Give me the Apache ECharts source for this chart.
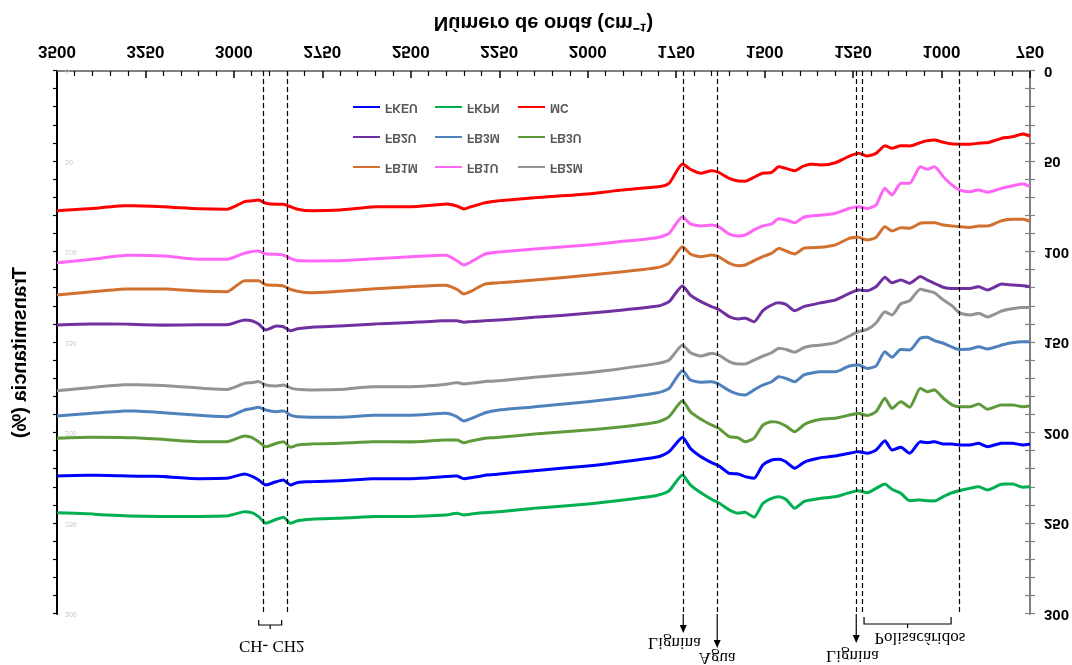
<!DOCTYPE html>
<html>
<head>
<meta charset="utf-8">
<script src="https://cdn.jsdelivr.net/npm/echarts@6/dist/echarts.min.js"></script>
<style>
  html, body { margin: 0; padding: 0; background: #fff; }
  /* the reference picture is mirrored top-to-bottom */
  #chart { width: 1072px; height: 665px; transform: scaleY(-1); }
</style>
</head>
<body>
<div id="chart"></div>
<script>
// wavenumbers (cm-1) shared by all spectra
var wavenumbers = [3500,3400,3300,3200,3100,3020,2970,2950,2930,2910,2880,2860,2840,2820,2780,2700,2600,2500,2400,2370,2350,2330,2290,2250,2150,2000,1900,1800,1770,1732,1710,1680,1650,1630,1600,1575,1555,1530,1505,1480,1460,1440,1415,1390,1370,1340,1300,1260,1235,1210,1185,1160,1140,1115,1090,1060,1040,1020,995,970,950,920,895,870,830,800,770,750];

var mc   = [77.2,75.9,74.4,75.0,76.1,76.4,72.2,71.7,71.3,73.1,73.6,73.6,75.0,76.4,77.2,76.8,75.0,75.0,73.5,74.6,76.2,75.0,72.8,71.7,70.0,68.0,65.7,63.9,62.0,51.4,54.3,56.5,55.1,56.0,59.3,60.8,60.9,58.7,56.5,56.0,52.9,53.8,55.1,52.5,51.5,51.9,50.7,47.0,45.5,47.0,45.5,41.3,42.7,41.3,41.4,39.6,38.5,38.1,39.4,40.3,40.5,40.5,39.9,39.6,37.2,36.3,34.8,35.9];
var fb1u = [105.9,104.0,101.8,102.2,104.0,104.0,100.7,99.8,99.4,101.1,101.3,101.7,103.5,104.8,105.0,104.8,103.7,102.6,101.8,104.8,107.2,105.5,101.1,100.0,98.3,96.1,94.1,91.9,89.7,80.5,84.5,85.6,85.1,86.0,90.1,91.2,90.6,87.8,85.6,84.5,81.6,82.3,83.8,80.8,80.1,79.6,78.6,75.9,75.0,75.9,74.0,64.8,68.5,62.0,62.0,52.9,54.3,52.9,58.4,63.0,65.7,66.7,65.7,67.0,64.8,63.5,62.4,63.9];
var fb1m = [123.8,121.9,120.4,120.4,121.5,121.9,115.9,115.9,115.9,118.1,118.4,118.8,120.6,121.7,122.5,121.7,120.3,119.2,118.4,120.6,123.2,121.7,117.7,117.0,115.5,112.9,110.9,108.5,106.2,97.1,101.1,102.6,101.7,102.6,106.2,107.6,107.2,104.8,102.6,100.7,98.0,99.4,101.1,98.0,97.6,97.4,96.1,92.4,91.9,93.4,91.9,86.0,88.4,86.6,86.9,84.1,83.8,83.8,85.1,85.6,86.0,86.4,85.6,85.6,82.7,81.9,81.9,83.0];
var fb2u = [140.3,139.8,139.9,140.5,140.2,140.2,137.6,138.0,139.8,143.1,140.9,141.3,143.5,142.4,141.6,140.9,139.8,139.0,138.0,138.0,138.8,138.5,138.0,137.6,136.1,133.9,132.0,129.8,127.4,118.8,123.8,127.4,130.2,131.7,135.7,137.0,136.6,138.5,132.4,129.3,128.0,128.9,132.4,130.2,129.3,128.0,126.5,122.8,121.0,121.4,119.2,114.0,117.0,115.5,117.3,113.6,115.5,117.3,119.5,120.1,120.1,120.1,119.2,121.0,117.7,118.2,118.6,119.2];
var fb2m = [176.6,174.8,173.3,173.7,175.1,175.9,172.5,172.2,171.6,173.5,174.0,173.5,175.1,175.9,176.2,175.9,174.4,174.4,173.1,172.2,172.9,172.5,171.6,171.1,169.2,166.7,164.3,161.5,159.7,151.4,155.6,157.5,156.0,156.9,160.6,161.9,161.9,159.7,157.5,155.6,153.2,153.8,155.4,152.9,151.9,151.4,150.1,146.4,144.0,142.7,139.2,133.0,134.8,128.6,126.9,120.6,121.5,122.5,126.5,129.8,133.5,134.8,133.9,135.9,132.6,131.3,130.6,130.8];
var fb3m = [190.6,189.1,187.8,188.8,190.2,191.0,187.3,186.6,185.8,187.3,188.2,187.8,190.1,191.0,191.3,191.3,190.2,190.2,189.1,191.0,193.4,192.1,188.8,187.3,185.5,182.7,180.5,177.7,175.3,165.6,170.7,172.0,171.7,172.9,176.6,178.5,179.0,176.2,173.5,171.7,168.9,169.8,171.7,168.0,167.0,166.1,166.1,163.0,162.4,164.3,163.0,155.1,158.2,153.8,154.1,147.7,147.1,149.0,150.4,152.6,153.8,153.6,152.3,153.6,151.4,150.1,149.6,149.6];
var fb3u = [202.9,202.4,202.6,203.5,204.8,204.8,201.7,202.4,204.8,207.6,205.7,204.8,207.9,206.6,206.1,205.7,204.8,205.0,203.9,203.9,205.4,204.4,202.9,202.4,200.6,198.3,196.5,193.8,191.0,182.2,188.2,192.4,195.6,197.4,202.0,202.6,204.8,202.9,195.6,193.8,194.3,196.1,199.3,195.6,193.8,192.4,191.9,190.1,189.1,190.4,188.2,180.8,186.4,182.7,185.8,175.3,177.2,176.2,180.8,184.5,185.5,185.5,184.0,186.9,184.5,184.5,185.5,185.1];
var fkeu = [223.8,223.4,223.8,224.1,225.3,225.0,222.7,223.8,226.0,228.7,226.9,226.0,228.7,227.4,226.9,226.4,225.3,225.3,224.1,223.8,225.3,224.7,223.4,222.7,220.8,218.2,215.9,213.1,210.3,202.4,208.5,213.1,216.4,218.1,222.3,222.7,224.1,225.0,217.7,214.9,214.5,215.9,219.5,216.4,214.9,213.6,212.7,211.2,210.3,211.2,209.4,204.3,209.4,207.9,211.2,204.8,205.4,204.8,206.1,206.1,206.6,206.6,205.7,207.6,205.7,205.7,206.6,206.1];
var fkpn = [244.0,244.8,245.9,246.2,246.2,245.9,243.5,244.0,246.2,249.9,247.7,246.6,249.9,248.5,247.7,247.1,246.2,246.2,245.3,244.4,245.3,244.8,244.0,243.5,241.6,239.2,237.0,234.3,231.9,223.2,228.7,233.0,236.6,238.5,242.5,244.4,243.8,246.6,238.9,236.1,235.2,236.6,241.6,238.0,237.0,236.1,235.2,233.0,231.9,233.0,230.6,228.2,231.1,233.3,237.4,237.0,237.4,237.6,235.2,233.0,231.9,230.6,229.7,231.5,228.3,228.2,230.0,229.7];

// dashed reference bands (cm-1)
var bandLines = [2916, 2848, 1730, 1634, 1241, 1224, 950];

var names  = ['FKEU', 'FKPN', 'MC', 'FB2U', 'FB3M', 'FB3U', 'FB1M', 'FB1U', 'FB2M'];
var spectra = { FKEU: fkeu, FKPN: fkpn, MC: mc, FB2U: fb2u, FB3M: fb3m, FB3U: fb3u, FB1M: fb1m, FB1U: fb1u, FB2M: fb2m };
var colors = {
    FKEU: '#0000FF', FKPN: '#00B050', MC: '#FF0000',
    FB2U: '#7030A0', FB3M: '#4F81BD', FB3U: '#5E9A3A',
    FB1M: '#D2712F', FB1U: '#FF66F5', FB2M: '#939393'
};

var chart = echarts.init(document.getElementById('chart'));

function pairs(vals) {
    return wavenumbers.map(function (w, i) { return [w, vals[i]]; });
}

var sans = '"Liberation Sans", Arial, sans-serif';
var legendText = { color: '#595959', fontSize: 12, fontWeight: 'bold', fontFamily: sans };
function legendCol(left, data) {
    return {
        orient: 'vertical', left: left, top: 492, padding: 0,
        itemGap: 18, itemWidth: 27, itemHeight: 14,
        itemStyle: { opacity: 0 },
        textStyle: legendText, data: data
    };
}

chart.setOption({
    animation: false,
    backgroundColor: '#fff',
    grid: { left: 57, right: 41, top: 51, bottom: 71 },
    legend: [
        legendCol(352, ['FB1M', 'FB2U', 'FKEU']),
        legendCol(434, ['FB1U', 'FB3M', 'FKPN']),
        legendCol(517, ['FB2M', 'FB3U', 'MC'])
    ],
    xAxis: [{
        type: 'value', position: 'bottom', inverse: true,
        min: 750, max: 3500, interval: 250,
        name: 'Número de onda (cm⁻¹)', nameLocation: 'middle', nameGap: 38,
        nameTextStyle: { fontSize: 20, fontWeight: 'bold', color: '#000', fontFamily: sans },
        axisLine: { lineStyle: { color: '#000', width: 2 } },
        axisTick: { inside: true, length: 7, lineStyle: { color: '#000', width: 1.5 } },
        minorTick: { show: true, splitNumber: 5, length: 5, lineStyle: { color: '#000', width: 1.2 } },
        axisLabel: {
            margin: 12, fontSize: 17, fontWeight: 'bold', color: '#000', fontFamily: sans,
            formatter: function (v) { return String(v); }
        },
        splitLine: { show: false }
    }, {
        type: 'value', position: 'top', inverse: true,
        min: 750, max: 3500, interval: 250,
        axisLine: { lineStyle: { color: '#808080', width: 2 } },
        axisTick: { show: false }, axisLabel: { show: false }, splitLine: { show: false }
    }],
    yAxis: [{
        type: 'value', position: 'left', min: 0, max: 300, interval: 10,
        name: 'Transmitancia (%)', nameLocation: 'middle', nameGap: 27,
        nameTextStyle: { fontSize: 20, fontWeight: 'bold', color: '#000', fontFamily: sans, padding: [0, 0, 0, 20] },
        axisLine: { show: true, lineStyle: { color: '#000', width: 2 } },
        axisTick: { show: true, length: 4, lineStyle: { color: '#000', width: 1.2 } },
        axisLabel: {
            inside: true, margin: 8, fontSize: 7, color: '#c8c8c8', fontFamily: sans,
            formatter: function (v) { return v % 50 === 0 ? String(v) : ''; }
        },
        splitLine: { show: false }
    }, {
        type: 'value', position: 'right', min: 0, max: 300, interval: 50,
        axisLine: { show: true, lineStyle: { color: '#808080', width: 2 } },
        axisTick: { show: true, length: 5, lineStyle: { color: '#808080', width: 1.2 } },
        minorTick: { show: true, splitNumber: 5, length: 5, lineStyle: { color: '#808080', width: 1.2 } },
        axisLabel: { margin: 14, fontSize: 15, fontWeight: 'bold', color: '#000', fontFamily: sans },
        splitLine: { show: false }
    }, {
        type: 'value', position: 'right', min: 0, max: 300, interval: 50,
        axisLine: { show: false },
        axisTick: { show: true, inside: true, length: 5, lineStyle: { color: '#808080', width: 1.2 } },
        minorTick: { show: true, splitNumber: 5, length: 5, lineStyle: { color: '#808080', width: 1.2 } },
        axisLabel: { show: false }, splitLine: { show: false }
    }],
    series: names.map(function (n, i) {
        var s = {
            name: n, type: 'line', data: pairs(spectra[n]),
            xAxisIndex: 0, yAxisIndex: 0,
            symbol: 'none', smooth: 0.2,
            lineStyle: { width: 3, color: colors[n] },
            itemStyle: { color: colors[n] }
        };
        if (i === 0) {
            s.markLine = {
                silent: true, symbol: ['none', 'none'], label: { show: false },
                lineStyle: { color: '#000', type: [5, 3], width: 1.2 },
                data: bandLines.map(function (v) { return { xAxis: v }; })
            };
        }
        return s;
    })
});

// band annotations outside the plot area
function annotations() {
    var top = chart.convertToPixel({ yAxisIndex: 0 }, 300);
    var px = function (w) { return chart.convertToPixel({ xAxisIndex: 0 }, w); };
    var ls = { stroke: '#000', lineWidth: 1.2, fill: null };
    var els = [];
    function brace(w1, w2, e, m, s) {
        var a = px(w1), b = px(w2), c = (a + b) / 2;
        els.push({ type: 'polyline', shape: { points: [[a, top - e], [a, top - m], [b, top - m], [b, top - e]] }, style: ls });
        els.push({ type: 'line', shape: { x1: c, y1: top - m, x2: c, y2: top - s }, style: ls });
    }
    function arrow(w, len) {
        var x = px(w);
        els.push({ type: 'line', shape: { x1: x, y1: top, x2: x, y2: top - len + 6 }, style: ls });
        els.push({ type: 'polygon', shape: { points: [[x - 3.5, top - len + 8], [x + 3.5, top - len + 8], [x, top - len]] }, style: { fill: '#000' } });
    }
    function label(w, off, text) {
        els.push({
            type: 'text', x: px(w), y: top - off,
            style: { text: text, font: '17px "Liberation Serif", "Times New Roman", serif', fill: '#000', align: 'center', verticalAlign: 'middle' }
        });
    }
    brace(2930, 2865, 6, 11, 15);
    label(2893, 31, 'CH- CH2');
    arrow(1730, 19);
    label(1755, 28, 'Lignina');
    arrow(1634, 34);
    label(1634, 43, 'Agua');
    arrow(1241, 29);
    label(1252, 41, 'Lignina');
    brace(1219, 973, 3, 10, 14);
    label(1061, 23, 'Polisacáridos');
    return els;
}

chart.setOption({ graphic: annotations() });
</script>
</body>
</html>
